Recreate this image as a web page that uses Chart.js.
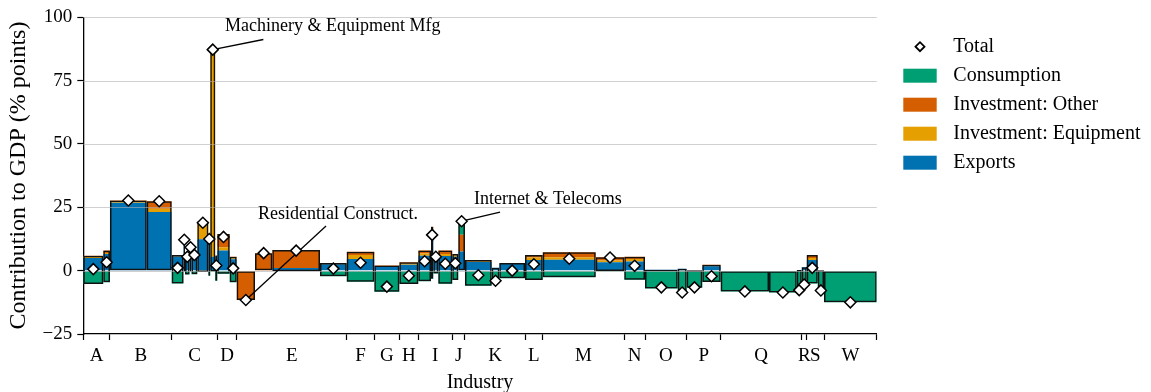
<!DOCTYPE html>
<html>
<head>
<meta charset="utf-8">
<script src="https://cdn.jsdelivr.net/npm/chart.js@4.4.1/dist/chart.umd.min.js"></script>
<style>
  body { margin: 0; background: #fff; }
  #wrap { width: 1151px; height: 392px; }
</style>
</head>
<body>
<div id="wrap"><canvas id="gdpChart" width="1151" height="392"></canvas></div>
<script>
// Industry sections shown on the x axis
const sections = ['A', 'B', 'C', 'D', 'E', 'F', 'G', 'H', 'I', 'J', 'K', 'L', 'M', 'N', 'O', 'P', 'Q', 'R', 'S', 'W'];

// Section of every sub-industry bar, left to right
const barSection = ['A', 'A', 'B', 'B', 'C', 'C', 'C', 'C', 'C', 'C', 'C', 'C', 'C', 'D', 'D',
    'E', 'E', 'E', 'E', 'F', 'G', 'H', 'I', 'I', 'I', 'I', 'J', 'J', 'K', 'K', 'K', 'L', 'M', 'M',
    'N', 'O', 'O', 'P', 'P', 'Q', 'Q', 'Q', 'R', 'S', 'S', 'W'];

// Bar width = share of gross value added (%)
const valueShare = [2.52, 0.84, 4.63, 3.15, 1.49, 0.19, 0.57, 0.25, 0.73, 1.39, 0.24, 0.63, 0.26, 1.56, 0.88,
    2.31, 2.18, 6.01, 3.37, 3.48, 3.15, 2.39, 1.60, 0.29, 0.63, 1.76, 0.76, 0.84, 3.37, 0.96, 3.24, 2.23, 6.68, 3.60,
    2.61, 4.12, 1.13, 1.97, 2.32, 6.09, 3.49, 0.63, 0.63, 1.39, 0.79, 6.64];

// Contributions to GDP (% points)
const exportsPts = [5.0, 6.6, 26.8, 23.1, 5.6, 12.0, 6.5, 9.0, 7.0, 12.4, 12.0, 5.5, 5.5, 7.9, 4.5,
    0, 0, 1.0, 2.5, 4.6, 1.8, 2.3, 5.9, 16.5, 5.5, 5.8, 5.5, 7.6, 3.4, 1.1, 2.8, 4.2, 4.3, 3.3,
    3.6, 0.4, 0.7, 0.2, 1.7, 0, 0, 0.3, 1.3, 4.2, 0.2, 0];
const equipmentPts = [0.4, 0.4, 0.4, 1.3, 0.2, 0, 0.3, 0, 0.3, 6.5, 2.5, 81.0, 0, 1.3, 0.4,
    0, 0, 0, 0.2, 1.6, 0, 0.5, 0.9, 0, 0.5, 0.8, 0.5, 0, 0.2, 0, 0, 1.0, 1.0, 0.7,
    1.0, 0, 0, 0, 0.1, 0, 0, 0, 0, 0.8, 0, 0];
const otherInvPts = [0.5, 0.9, 0.5, 3.0, 0.4, 0.5, 0.2, 0.5, 0.3, 0.5, 0, 1.0, 0.5, 5.3, 0.6,
    -11.6, 6.9, 7.1, 0.3, 1.3, 0.2, 0.5, 1.1, 0.8, 0.6, 1.3, 0.6, 6.6, 0.6, 0, 0.2, 1.0, 2.0, 1.3,
    0.9, 0, 0, 0, 0.5, 0, 0, 0, 0, 1.2, 0, 0];
const consumptionPts = [-5.3, -4.6, 0, 0, -5.1, -0.3, -1.5, -0.3, -1.4, -0.5, -2.0, -0.3, -4.0, -1.2, -4.6,
    0, 0, -0.2, -2.2, -4.4, -8.3, -5.3, -4.2, -3.2, -1.1, -5.2, -3.7, 5.3, -6.0, -5.1, -3.0, -3.7, -2.6, -0.1,
    -3.6, -7.0, -9.3, -6.8, -4.5, -8.2, -8.6, -8.0, -6.8, -5.1, -8.0, -12.5];

const yTicks = [-25, 0, 25, 50, 75, 100];

// Labelled bars: text anchor and end of the leader line, in axis units
const callouts = [
    { bar: 11, text: 'Machinery & Equipment Mfg', at: [17.86, 96.85], tail: [22.69, 91.2] },
    { bar: 15, text: 'Residential Construct.', at: [22.02, 22.71], tail: [30.59, 17.6] },
    { bar: 27, text: 'Internet & Telecoms', at: [49.24, 28.63], tail: [52.52, 23.1] }
];

const colors = {
    exports: '#0072B2',
    equipment: '#E69F00',
    other: '#D55E00',
    consumption: '#009E73'
};

// bar geometry along the x axis
const lefts = [];
let run = 0;
valueShare.forEach(w => { lefts.push(run); run += w; });
const totalShare = run;
const centers = valueShare.map((w, i) => lefts[i] + w / 2);
const parts = [exportsPts, equipmentPts, otherInvPts, consumptionPts];
const totals = centers.map((_, i) => parts.reduce((s, p) => s + p[i], 0));
const frameRange = centers.map((_, i) => {
    const neg = parts.reduce((s, p) => s + Math.min(p[i], 0), 0);
    const pos = parts.reduce((s, p) => s + Math.max(p[i], 0), 0);
    return [neg, pos];
});

// section edges and midpoints for the x ticks
const sectionEdges = [0];
const sectionMid = [];
sections.forEach(s => {
    const idx = barSection.map((b, i) => b === s ? i : -1).filter(i => i >= 0);
    const a = lefts[idx[0]];
    const b = lefts[idx[idx.length - 1]] + valueShare[idx[idx.length - 1]];
    sectionMid.push((a + b) / 2);
    sectionEdges.push(b);
});

// Bars whose width comes from the data (marimekko style)
class MekkoController extends Chart.BarController {
    _calculateBarIndexPixels(index) {
        const xs = this._cachedMeta.iScale;
        const item = this.getDataset().data[index];
        const left = xs.getPixelForValue(item.x - item.w / 2);
        const right = xs.getPixelForValue(item.x + item.w / 2);
        return { base: left, head: right, center: (left + right) / 2, size: right - left };
    }
}
MekkoController.id = 'mekko';
Chart.register(MekkoController);

const mk = vals => vals.map((v, i) => ({ x: centers[i], y: v, w: valueShare[i] }));

// grid lines sit above the bars but under the markers, together with the callouts
const gridAndCallouts = {
    id: 'gridAndCallouts',
    beforeDatasetDraw(chart, args) {
        if (args.meta.type !== 'scatter') return;
        const { ctx, chartArea, scales: { x, y } } = chart;
        ctx.save();
        ctx.strokeStyle = 'rgba(176,176,176,0.6)';
        ctx.lineWidth = 1;
        yTicks.forEach(v => {
            if (v === y.min) return;
            const py = Math.round(y.getPixelForValue(v)) + 0.5;
            ctx.beginPath();
            ctx.moveTo(chartArea.left, py);
            ctx.lineTo(chartArea.right, py);
            ctx.stroke();
        });
        ctx.strokeStyle = '#000';
        ctx.lineWidth = 1.3;
        ctx.fillStyle = '#000';
        ctx.font = '18px "Liberation Serif", "DejaVu Serif", serif';
        ctx.textBaseline = 'middle';
        ctx.textAlign = 'left';
        callouts.forEach(c => {
            ctx.beginPath();
            ctx.moveTo(x.getPixelForValue(centers[c.bar]), y.getPixelForValue(totals[c.bar]));
            ctx.lineTo(x.getPixelForValue(c.tail[0]), y.getPixelForValue(c.tail[1]));
            ctx.stroke();
            ctx.fillText(c.text, x.getPixelForValue(c.at[0]), y.getPixelForValue(c.at[1]) + 1.5);
        });
        ctx.restore();
    }
};

const sideLegend = {
    id: 'sideLegend',
    afterDraw(chart) {
        const { ctx, chartArea } = chart;
        const ds = chart.data.datasets;
        const entries = [ds[0], ds[4], ds[3], ds[2], ds[1]];
        const left = chartArea.right + 26.6;
        ctx.save();
        ctx.font = '20px "Liberation Serif", "DejaVu Serif", serif';
        ctx.textBaseline = 'middle';
        ctx.textAlign = 'left';
        entries.forEach((d, i) => {
            const cy = chartArea.top + 29.5 + i * 29;
            if (d.type === 'scatter') {
                const cx = left + 16.7, r = 4.5;
                ctx.beginPath();
                ctx.moveTo(cx - r, cy);
                ctx.lineTo(cx, cy - r);
                ctx.lineTo(cx + r, cy);
                ctx.lineTo(cx, cy + r);
                ctx.closePath();
                ctx.fillStyle = '#fff';
                ctx.fill();
                ctx.lineWidth = 1.8;
                ctx.strokeStyle = '#000';
                ctx.stroke();
            } else {
                ctx.fillStyle = d.backgroundColor;
                ctx.fillRect(left, cy - 7, 33.4, 14);
            }
            ctx.fillStyle = '#000';
            ctx.fillText(d.label, left + 50, cy);
        });
        ctx.restore();
    }
};

Chart.defaults.font.family = '"Liberation Serif", "DejaVu Serif", serif';
Chart.defaults.color = '#000';

const bars = {
    type: 'mekko',
    stack: 'parts',
    borderWidth: 0,
    inflateAmount: 0
};

new Chart(document.getElementById('gdpChart'), {
    type: 'bar',
    data: {
        datasets: [
            {
                type: 'scatter',
                label: 'Total',
                data: totals.map((t, i) => ({ x: centers[i], y: t })),
                pointStyle: 'rectRot',
                pointRadius: 5.5,
                backgroundColor: '#fff',
                borderColor: '#000',
                borderWidth: 1.5,
                order: -2
            },
            { ...bars, label: 'Exports', data: mk(exportsPts), backgroundColor: colors.exports },
            { ...bars, label: 'Investment: Equipment', data: mk(equipmentPts), backgroundColor: colors.equipment },
            { ...bars, label: 'Investment: Other', data: mk(otherInvPts), backgroundColor: colors.other },
            { ...bars, label: 'Consumption', data: mk(consumptionPts), backgroundColor: colors.consumption },
            {
                type: 'mekko',
                label: 'outline',
                stack: 'frame',
                data: mk(frameRange),
                backgroundColor: 'rgba(0,0,0,0)',
                borderColor: '#111',
                borderWidth: 1.5,
                borderSkipped: false,
                inflateAmount: 0,
                order: -1
            }
        ]
    },
    options: {
        responsive: false,
        animation: false,
        devicePixelRatio: 1,
        layout: { padding: { left: 4, top: 17.2, right: 274.3, bottom: 0 } },
        plugins: {
            legend: { display: false },
            tooltip: { enabled: false }
        },
        scales: {
            x: {
                type: 'linear',
                min: 0,
                max: totalShare,
                bounds: 'data',
                offset: false,
                grid: {
                    offset: false,
                    drawOnChartArea: false,
                    tickLength: 6,
                    tickWidth: 1.2,
                    tickColor: c => (c.tick && c.tick.letter) ? 'rgba(0,0,0,0)' : '#000'
                },
                border: { color: '#000', width: 1.3 },
                afterBuildTicks: scale => {
                    const ticks = sectionEdges.map(v => ({ value: v }));
                    sections.forEach((s, k) => ticks.push({ value: sectionMid[k], letter: s }));
                    ticks.sort((a, b) => a.value - b.value);
                    scale.ticks = ticks;
                },
                afterFit: scale => { scale.height = 58; },
                ticks: {
                    autoSkip: false,
                    maxRotation: 0,
                    padding: 5,
                    font: { size: 19 },
                    callback: (v, i, ticks) => ticks[i].letter || ''
                },
                title: {
                    display: true,
                    text: 'Industry',
                    font: { size: 20 },
                    padding: { top: 0, bottom: -3 }
                }
            },
            y: {
                stacked: true,
                min: -25,
                max: 100,
                afterBuildTicks: scale => { scale.ticks = yTicks.map(v => ({ value: v })); },
                afterFit: scale => { scale.width = 79.3; },
                grid: {
                    drawOnChartArea: false,
                    tickLength: 6,
                    tickWidth: 1.2,
                    tickColor: '#000'
                },
                border: { color: '#000', width: 1.3 },
                ticks: {
                    padding: 5,
                    font: { size: 19 },
                    callback: v => v < 0 ? '\u2212' + Math.abs(v) : String(v)
                },
                title: {
                    display: true,
                    text: 'Contribution to GDP (% points)',
                    font: { size: 24 },
                    padding: { top: 0, bottom: 0 }
                }
            }
        }
    },
    plugins: [gridAndCallouts, sideLegend]
});
</script>
</body>
</html>
